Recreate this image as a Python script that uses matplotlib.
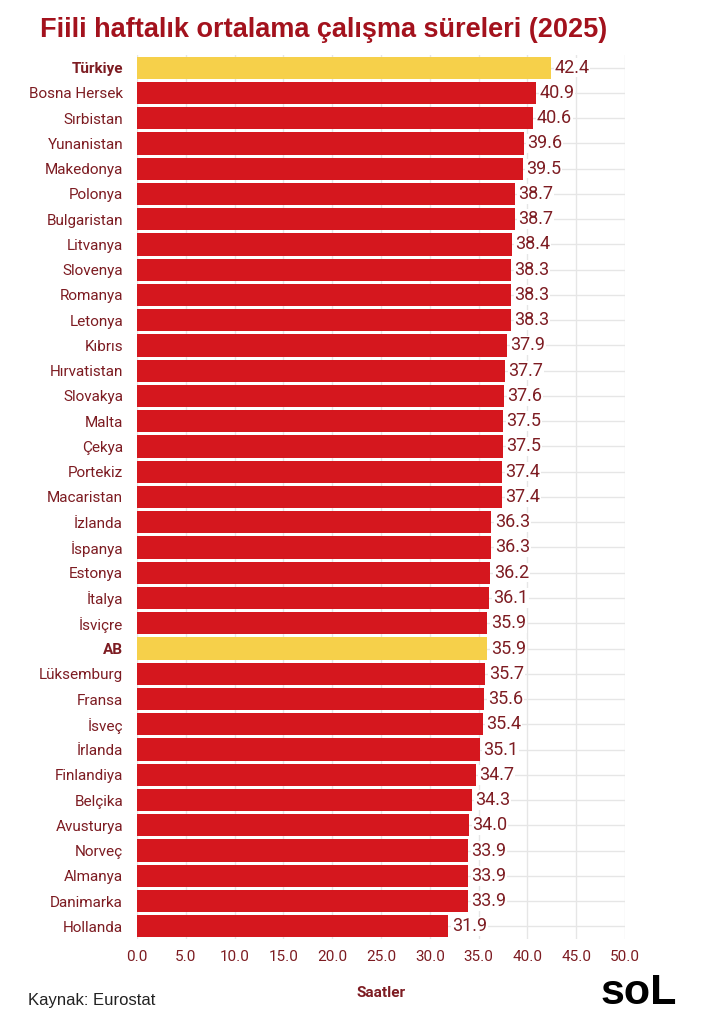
import matplotlib
matplotlib.use("Agg")
import matplotlib.pyplot as plt
import numpy as np

countries = ["Türkiye", "Bosna Hersek", "Sırbistan", "Yunanistan", "Makedonya", "Polonya",
             "Bulgaristan", "Litvanya", "Slovenya", "Romanya", "Letonya", "Kıbrıs",
             "Hırvatistan", "Slovakya", "Malta", "Çekya", "Portekiz", "Macaristan",
             "İzlanda", "İspanya", "Estonya", "İtalya", "İsviçre", "AB", "Lüksemburg",
             "Fransa", "İsveç", "İrlanda", "Finlandiya", "Belçika", "Avusturya", "Norveç",
             "Almanya", "Danimarka", "Hollanda"]
hours = [42.4, 40.9, 40.6, 39.6, 39.5, 38.7, 38.7, 38.4, 38.3, 38.3, 38.3, 37.9,
         37.7, 37.6, 37.5, 37.5, 37.4, 37.4, 36.3, 36.3, 36.2, 36.1, 35.9, 35.9, 35.7,
         35.6, 35.4, 35.1, 34.7, 34.3, 34.0, 33.9, 33.9, 33.9, 31.9]
highlight = ["Türkiye", "AB"]
xticks = np.arange(0, 55, 5)

RED = "#d5171e"
YELLOW = "#f6d04a"
TXT = "#7d1c22"
font = ["Roboto", "DejaVu Sans"]
plt.rcParams["font.family"] = font

fig = plt.figure(figsize=(7.08, 10.28), dpi=100)
ax = fig.add_axes([0.1935, 0.0866, 0.6893, 0.8599])

y = np.arange(len(countries))
cols = [YELLOW if c in highlight else RED for c in countries]
ax.barh(y, hours, height=0.88, color=cols, zorder=3)
ax.set_ylim(len(countries) - 0.5, -0.5)
ax.set_xlim(0, 50)

# value labels with white patch so the gridline stops behind the number
for yi, v in zip(y, hours):
    ax.text(v + 0.35, yi, f"{v:.1f}", va="center", ha="left", fontsize=13,
            color=TXT, zorder=4, bbox=dict(facecolor="white", edgecolor="none", pad=0.5))

ax.set_yticks(y)
ax.set_yticklabels(countries, fontsize=11, color=TXT)
for lab in ax.get_yticklabels():
    if lab.get_text() in highlight:
        lab.set_fontweight("bold")
ax.set_xticks(xticks)
ax.set_xticklabels([f"{t:.1f}" for t in xticks], fontsize=11, color=TXT)
ax.tick_params(length=0, pad=8)
ax.tick_params(axis="y", pad=10)
ax.grid(True, color="#e6e6e6", linewidth=1, zorder=0)
for s in ax.spines.values():
    s.set_visible(False)
ax.set_xlabel("Saatler", fontsize=11, color=TXT, fontweight="bold", labelpad=16)

fig.text(40 / 708, 1 - 30 / 1028, "Fiili haftalık ortalama çalışma süreleri (2025)",
         fontsize=19.5, fontweight="bold", color="#a3121d", va="center", ha="left",
         family=["Liberation Sans", "DejaVu Sans"])
fig.text(28 / 708, 1 - 1000 / 1028, "Kaynak: Eurostat", fontsize=12, color="#222222",
         va="center", ha="left", family=["Liberation Sans", "DejaVu Sans"])
fig.text(677 / 708, 1 - 993 / 1028, "soL", fontsize=31, fontweight="heavy", color="black",
         va="center", ha="right", family=["Liberation Sans", "DejaVu Sans"])

fig.savefig("out.png", dpi=100, facecolor="white")
